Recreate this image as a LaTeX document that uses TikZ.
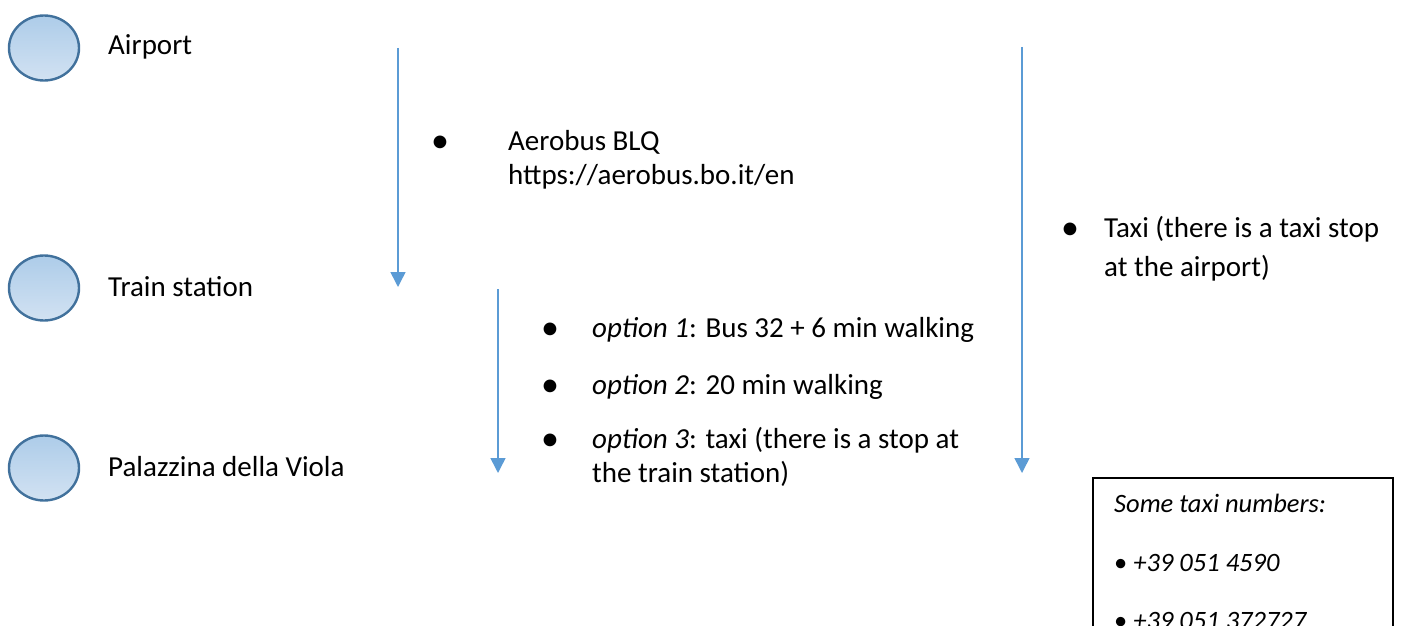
\documentclass[tikz,border=0pt]{standalone}
\usepackage{fontspec}
\setmainfont{Carlito}
\usetikzlibrary{arrows.meta,shapes.geometric}

\definecolor{stopedge}{HTML}{41719C}
\definecolor{stoptop}{HTML}{ADCCE9}
\definecolor{stopbottom}{HTML}{D2E2F2}
\definecolor{waycolor}{HTML}{5B9BD5}

\begin{document}
\begin{tikzpicture}[x=1pt,y=-1pt,
    stop/.style={ellipse, draw=stopedge, line width=2.4pt, top color=stoptop,
      bottom color=stopbottom, minimum width=70pt, minimum height=65pt},
    way/.style={draw=waycolor, line width=1.5pt, -{Triangle[width=15pt,length=15pt]}},
    txt/.style={anchor=base west, inner sep=0pt,
      font=\fontsize{29}{34}\selectfont},
    boxtxt/.style={anchor=base west, inner sep=0pt,
      font=\fontsize{26.5}{32}\selectfont},
    dot/.style={anchor=base, inner sep=0pt, font=\fontsize{36}{34}\selectfont}]
  \useasboundingbox (0,0) rectangle (1401,626);
  % fermate
  \node [stop] (airport) at (44,48) {};
  \node [stop] (train) at (44,288) {};
  \node [stop] (viola) at (44,468) {};
  \node [txt] (airportlbl) at (108,55) {Airport};
  \node [txt] (trainlbl) at (108,296) {Train station};
  \node [txt] (violalbl) at (108,476) {Palazzina della Viola};
  % frecce
  \coordinate (a1) at (398,48);  \coordinate (b1) at (398,287);
  \coordinate (a2) at (498,289); \coordinate (b2) at (498,473);
  \coordinate (a3) at (1022,47); \coordinate (b3) at (1022,473);
  \draw [way] (a1) -- (b1);
  \draw [way] (a2) -- (b2);
  \draw [way] (a3) -- (b3);
  % aerobus
  \node [dot] (d1) at (440,152) {•};
  \node [txt] (aerobus) at (508,150) {Aerobus BLQ};
  \node [txt] (aerolink) at (508,184) {https://aerobus.bo.it/en};
  % taxi
  \node [dot] (d2) at (1070,239) {•};
  \node [txt] (taxi1) at (1104,237) {Taxi (there is a taxi stop};
  \node [txt] (taxi2) at (1104,276) {at the airport)};
  % opzioni
  \node [dot] (d3) at (550,339) {•};
  \node [txt] (opt1) at (592,337) {{\itshape option 1}: Bus 32 + 6 min walking};
  \node [dot] (d4) at (550,396) {•};
  \node [txt] (opt2) at (592,394) {{\itshape option 2}: 20 min walking};
  \node [dot] (d5) at (550,450) {•};
  \node [txt] (opt3) at (592,448) {{\itshape option 3}: taxi (there is a stop at};
  \node [txt] (opt3b) at (592,482) {the train station)};
  % numeri taxi
  \begin{scope}
    \clip (0,0) rectangle (1401,626);
    \draw [line width=1.8pt] (1093,478) rectangle (1393,700);
    \node [boxtxt] (numhead) at (1114,512) {\itshape Some taxi numbers:};
    \node [boxtxt] (num1) at (1114,571) {• \itshape +39 051 4590};
    \node [boxtxt] (num2) at (1114,629) {• \itshape +39 051 372727};
  \end{scope}
\end{tikzpicture}
\end{document}
